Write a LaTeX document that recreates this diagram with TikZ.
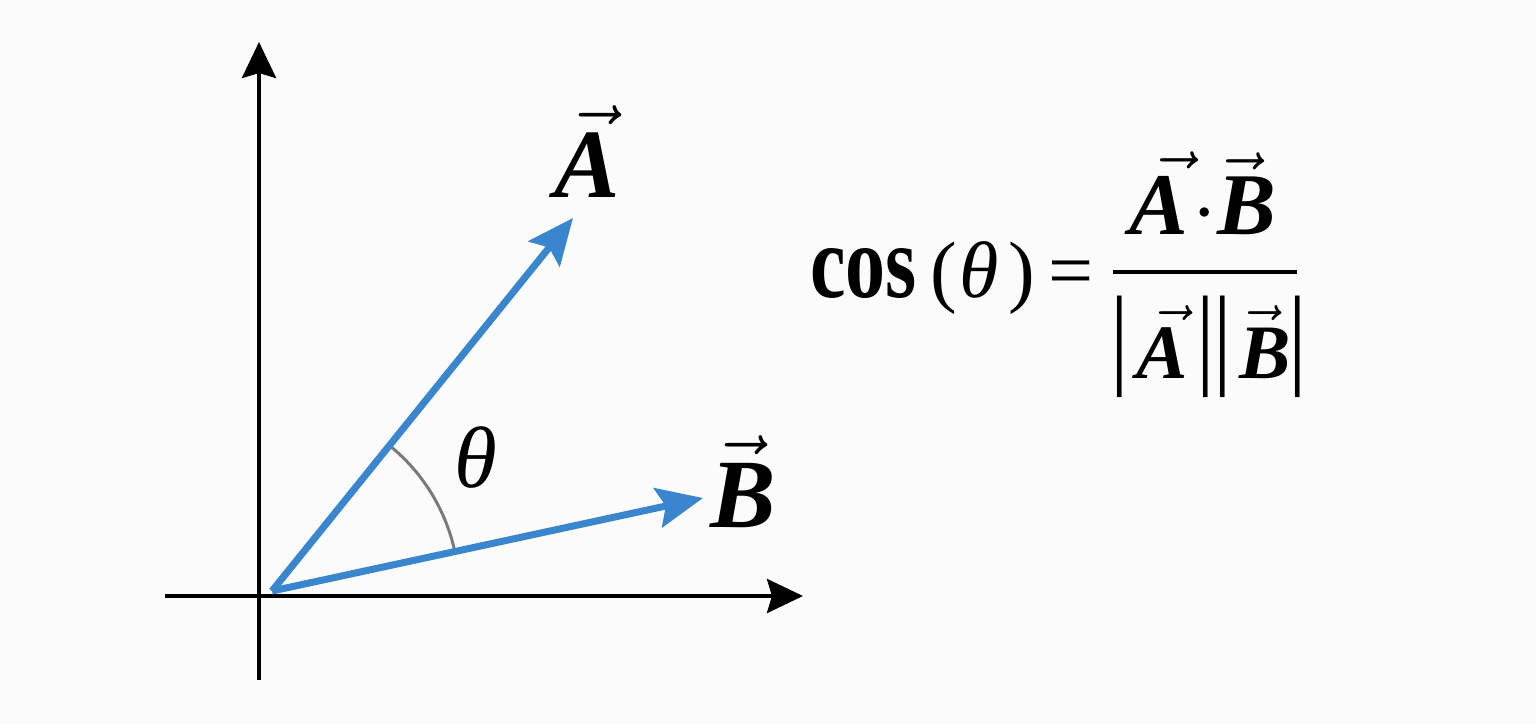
\documentclass[tikz,border=0pt]{standalone}
\usepackage{fix-cm}
\usepackage{amsmath}
\usepackage{graphicx}
\usepackage{fontspec}
\setmainfont{Liberation Serif}
\usetikzlibrary{arrows.meta}
\definecolor{vecblue}{RGB}{58,134,206}
\definecolor{arcgray}{RGB}{122,122,122}
\definecolor{bgcol}{RGB}{251,251,251}
% bold italic letter with a vector arrow, arrow shifted right by half of #2
\newcommand{\vlet}[2]{\vec{\mbox{\bfseries\itshape #1}\kern#2}\kern-#2}
% tall absolute-value bar
\newcommand{\dbar}{\raisebox{5pt}{\scalebox{1.2}[1.45]{|}}}
\begin{document}
\begin{tikzpicture}[x=1pt,y=1pt,
  axisline/.style={line width=4pt, -{Stealth[length=36pt,width=34pt,inset=5pt]}},
  vecarrow/.style={vecblue, line width=7pt, -{Stealth[length=46pt,width=40pt,inset=8pt]}},
  anglearc/.style={arcgray, line width=3pt},
  veclabel/.style={inner sep=0pt, anchor=base, font=\fontsize{98}{98}\selectfont},
  anglelabel/.style={inner sep=0pt, anchor=base, font=\fontsize{87}{87}\selectfont\itshape},
  formula/.style={inner sep=0pt},
]
\fill[bgcol] (0,0) rectangle (1536,724);
\useasboundingbox (0,0) rectangle (1536,724);

% coordinates
\coordinate (xl) at (165,128);
\coordinate (xr) at (803,128);
\coordinate (yb) at (259,44);
\coordinate (yt) at (259,682);
\coordinate (O) at (272,133);
\coordinate (Atip) at (573,506);
\coordinate (Btip) at (703,226);

% axes
\draw[axisline] (xl) -- (xr);
\draw[axisline] (yb) -- (yt);

% angle arc
\draw[anglearc] ([shift={(12.5:187)}]O) arc[start angle=12.5, end angle=50.5, radius=187];

% vectors
\draw[vecarrow] (O) -- (Atip);
\draw[vecarrow] (O) -- (Btip);

% labels
\node[veclabel] (labA) at (587,526) {$\vlet{A}{0.12em}$};
\node[veclabel] (labB) at (743,197) {$\vlet{B}{-0.08em}$};
\node[anglelabel] (labT) at (476,237) {θ};

% formula
\node[formula, anchor=base west, font=\fontsize{80}{80}\selectfont] (lhs) at (810,426)
  {\scalebox{1}[1.3]{\bfseries cos}\kern14pt(\kern2pt\textit{θ}\kern10pt)\kern13pt=};
\node[formula, anchor=base, font=\fontsize{88}{88}\selectfont] (num) at (1203,489)
  {$\vlet{A}{0.3em}\mkern0.9mu{\cdot}\vlet{B}{-0.17em}$};
\coordinate (barl) at (1113,452);
\coordinate (barr) at (1297,452);
\draw[line width=4pt] (barl) -- (barr);
\node[formula, anchor=base west, font=\fontsize{77}{80}\selectfont] (den) at (1110.5,346)
  {\dbar\kern7.5pt$\vlet{A}{0.2em}$\kern8pt\dbar\kern-1pt\dbar\kern7pt$\vlet{B}{-0.14em}$\kern-1.6pt\dbar};
\end{tikzpicture}
\end{document}
